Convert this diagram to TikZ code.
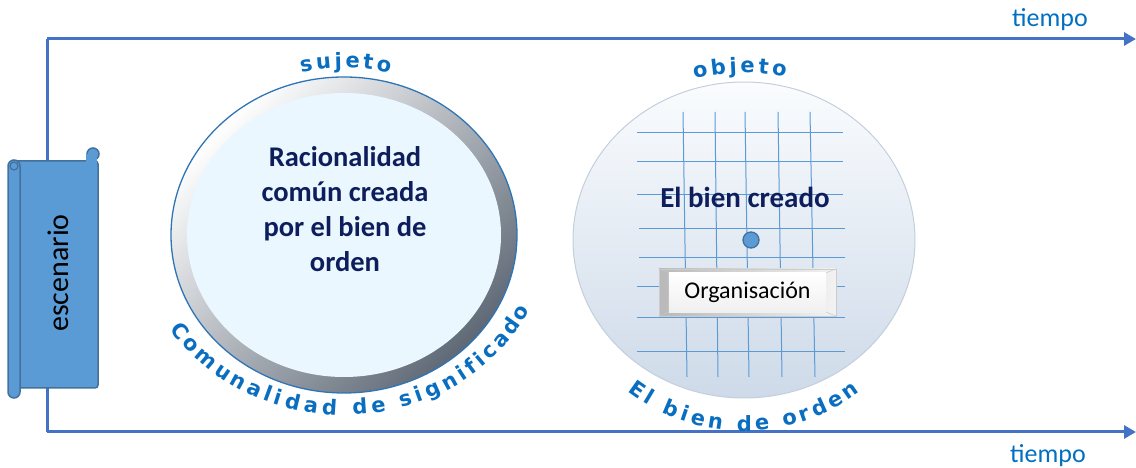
\documentclass[tikz,border=0pt]{standalone}
\usepackage{fontspec}
\setmainfont{Carlito}
\newfontfamily\arcfamily{DejaVu Sans}
\usetikzlibrary{arrows.meta}
\definecolor{linecol}{RGB}{68,114,196}
\definecolor{tblue}{RGB}{0,112,192}
\definecolor{arcblue}{RGB}{10,110,192}
\definecolor{navy}{RGB}{14,30,92}
\definecolor{ringdark}{RGB}{95,105,118}
\definecolor{ringblue}{RGB}{46,117,182}
\definecolor{innerfill}{RGB}{235,247,254}
\definecolor{balltop}{RGB}{250,252,254}
\definecolor{ballmid}{RGB}{224,233,243}
\definecolor{ballbot}{RGB}{206,218,233}
\definecolor{balledge}{RGB}{196,207,220}
\definecolor{gridcol}{RGB}{91,155,213}
\definecolor{scrollfill}{RGB}{91,155,213}
\definecolor{scrolledge}{RGB}{65,113,156}
\definecolor{dotedge}{RGB}{65,113,156}
% #1 centre, #2 x radius, #3 y radius, #4 start angle, #5 end angle,
% #6 direction (+1 ccw, -1 cw), #7 name prefix, #8 list char/weight
\newcommand\arcletters[8]{%
  \xdef\arcsum{0}%
  \foreach \chr/\wt in {#8} {\pgfmathsetmacro\tmpv{\arcsum+\wt}\xdef\arcsum{\tmpv}}%
  \xdef\arcacc{0}%
  \foreach \chr/\wt [count=\i] in {#8} {%
    \pgfmathsetmacro\th{#4+(#5-#4)*(\arcacc+\wt/2)/\arcsum}%
    \pgfmathsetmacro\rot{atan2(#6*#3*cos(\th), -#6*#2*sin(\th))}%
    \node[arcchar, rotate=\rot] (#7\i) at ([shift={(\th:#2 and #3)}]#1) {\chr};%
    \pgfmathsetmacro\tmpv{\arcacc+\wt}\xdef\arcacc{\tmpv}%
  }%
}
\begin{document}
\begin{tikzpicture}[x=1pt,y=1pt,
  axisline/.style={line width=3pt, draw=linecol},
  tiptri/.style={-{Triangle[length=12pt,width=13pt]}},
  tlabel/.style={font=\fontsize{26}{30}\selectfont, text=tblue, inner sep=0pt},
  maintext/.style={font=\bfseries\fontsize{28.5}{35}\selectfont, text=navy, align=center, inner sep=0pt},
  gridline/.style={draw=gridcol, line width=1pt},
  scrollpart/.style={fill=scrollfill, draw=scrolledge, line width=1.5pt},
  arcchar/.style={font=\arcfamily\bfseries\fontsize{21}{25}\selectfont, text=arcblue, anchor=base, inner sep=0pt}
]
\useasboundingbox (0,0) rectangle (1136,468);

% time axes
\coordinate (tl) at (47,429);
\coordinate (tr) at (1136,429);
\coordinate (bl) at (47,36);
\coordinate (br) at (1136,36);
\draw[axisline] (bl) -- (tl);
\draw[axisline,tiptri] (tl) -- (tr);
\draw[axisline,tiptri] (bl) -- (br);
\node[tlabel] (t1) at (1050,448) {tiempo};
\node[tlabel] (t2) at (1048,12) {tiempo};

% scroll
\draw[scrollpart, rounded corners=3pt] (14,80) rectangle (98,307);
\draw[scrollpart] (93,314) circle[radius=6];
\fill[scrollfill] (86,301) rectangle (97.2,314);
\draw[scrollpart, rounded corners=6pt] (8,70) rectangle (20,308);
\draw[scrolledge, line width=1.2pt] (14,302) circle[radius=4];
\node[font=\fontsize{30}{34}\selectfont, rotate=90, inner sep=0pt] (esc) at (58,195) {escenario};

% left circle
\coordinate (c1) at (344,233);
\shade[top color=white, bottom color=ringdark, shading angle=45] (c1) ellipse[x radius=173, y radius=158];
\draw[ringblue, line width=1.3pt] (c1) ellipse[x radius=173, y radius=158];
\fill[innerfill] (c1) ellipse[x radius=157, y radius=142];
\node[maintext] (rac) at (345,259) {Racionalidad\\común creada\\por el bien de\\orden};
\arcletters{c1}{190}{167}{103.5}{75.5}{-1}{suj}{s/.765,u/.882,j/.513,e/.848,t/.648,o/.857}
\arcletters{c1}{204}{180}{211}{336}{1}{com}{C/.904,o/.857,m/1.212,u/.882,n/.882,a/.845,l/.513,i/.513,d/.886,a/.845,d/.886,~/.518,d/.886,e/.848,~/.518,s/.765,i/.513,g/.886,n/.882,i/.513,f/.605,i/.513,c/.763,a/.845,d/.886,o/.857}

% right circle
\coordinate (c2) at (744,228);
\shade[top color=balltop, middle color=ballmid, bottom color=ballbot] (c2) ellipse[x radius=171, y radius=158];
\draw[balledge, line width=1pt] (c2) ellipse[x radius=171, y radius=158];
\foreach \xa/\xb in {683/687, 715/718, 745/749, 778/782, 810/815}
  \draw[gridline] (\xa,356) -- (\xb,91);
\foreach \yy/\xs/\xe in {335/637/843, 306/637/843, 273/637/843, 239/639/845, 210/639/845, 181/637/845, 150/637/845, 116/637/845}
  \draw[gridline] (\xs,\yy) -- (\xe,\yy);
\node[maintext, font=\bfseries\fontsize{29}{34}\selectfont] (ebc) at (745,271) {El bien creado};
\node[circle, minimum size=16pt, inner sep=0pt, fill=scrollfill, draw=dotedge, line width=1.3pt] (dot) at (751,228) {};
\node[minimum width=177pt, minimum height=47pt, inner sep=0pt, left color=gray!55, right color=gray!10, draw=gray!40] (org) at (747.5,175.5) {};
\shade[top color=white, bottom color=gray!12] ([shift={(10,-4)}]org.north west) rectangle ([shift={(-10,4)}]org.south east);
\draw[gray!45, line width=0.5pt] (org.north west) -- ++(10,-4) (org.south west) -- ++(10,4) (org.north east) -- ++(-10,-4) (org.south east) -- ++(-10,4);
\node[font=\fontsize{24}{28}\selectfont, inner sep=0pt] (orgt) at (org) {Organisación};
\arcletters{c2}{190}{167}{105.6}{76.9}{-1}{obj}{o/.857,b/.886,j/.513,e/.848,t/.648,o/.857}
\arcletters{c2}{191}{191}{232}{308}{1}{ebo}{E/.853,l/.513,~/.518,b/.886,i/.513,e/.848,n/.882,~/.518,d/.886,e/.848,~/.518,o/.857,r/.663,d/.886,e/.848,n/.882}
\end{tikzpicture}
\end{document}
